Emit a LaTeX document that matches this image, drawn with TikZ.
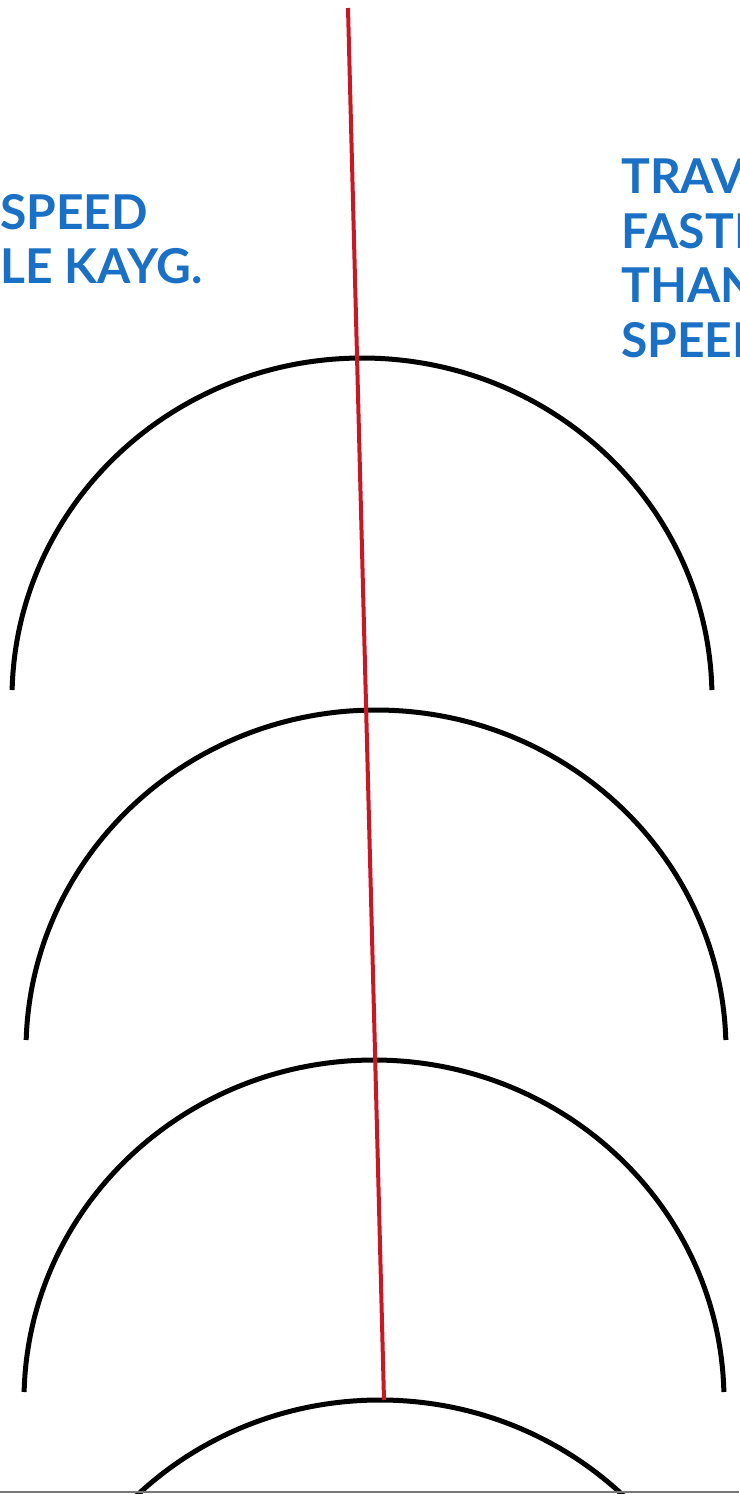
\documentclass[tikz,border=0pt]{standalone}
\usepackage{fontspec}
\setmainfont{Lato}
\definecolor{txtblue}{RGB}{26,112,196}
\definecolor{axisred}{RGB}{200,24,36}
\begin{document}
\begin{tikzpicture}[x=1pt,y=1pt,
  wave/.style={draw=black,line width=5pt},
  label/.style={text=txtblue,font=\bfseries\fontsize{48}{54.5}\selectfont,align=left,inner sep=0pt,anchor=north west},
  axis/.style={draw=axisred,line width=4pt}]
\useasboundingbox (0,0) rectangle (739,-1494);
\clip (0,0) rectangle (739,-1494);
\fill[white] (0,0) rectangle (739,-1494);
% text
\node[label] (lt) at (0,-194) {SPEED\\LE KAYG.};
\node[label] (rt) at (621,-159) {TRAVEL\\FASTER\\THAN\\SPEED};
% arcs
\coordinate (c1) at (362,-698);
\coordinate (c2) at (376,-1050);
\coordinate (c3) at (374,-1400);
\coordinate (c4) at (380,-1740);
\draw[wave] (c1) ++(1.35:350 and 340) arc[start angle=1.35,end angle=178.65,x radius=350,y radius=340];
\draw[wave] (c2) ++(1.69:350 and 340) arc[start angle=1.69,end angle=178.31,x radius=350,y radius=340];
\draw[wave] (c3) ++(1.35:350 and 340) arc[start angle=1.35,end angle=178.65,x radius=350,y radius=340];
\draw[wave] (c4) ++(0:350 and 340) arc[start angle=0,end angle=180,x radius=350,y radius=340];
% red line
\coordinate (rtop) at (348,-8);
\coordinate (rbot) at (384,-1400);
\draw[axis] (rtop) -- (rbot);
% bottom edge
\coordinate (bl) at (0,-1492);
\coordinate (br) at (739,-1492);
\draw[draw={rgb,255:red,120;green,120;blue,120},line width=2.5pt] (bl) -- (br);
\end{tikzpicture}
\end{document}
